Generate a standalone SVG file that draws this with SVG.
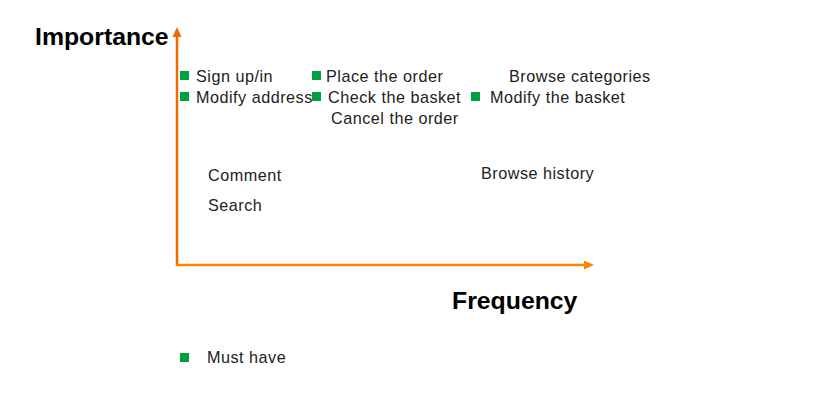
<svg xmlns="http://www.w3.org/2000/svg" width="836" height="409" viewBox="0 0 836 409">
<style>
.t{font-family:"Liberation Sans",Arial,sans-serif;font-size:16.2px;letter-spacing:0.5px;fill:#222}
.h{font-family:"Liberation Sans",Arial,sans-serif;font-size:24.8px;font-weight:bold;fill:#000}
.sq{fill:#00a040}
</style>
<rect width="836" height="409" fill="#fff"/>
<g id="connectors">
<line x1="177" y1="36" x2="177" y2="265.5" stroke="#f06a00" stroke-width="2.5"/>
<polygon points="177,27 172.5,37 181.5,37" fill="#f06a00"/>
<line x1="176" y1="265" x2="586" y2="265" stroke="#ff8400" stroke-width="2.5"/>
<polygon points="594,265 584,260.5 584,269.5" fill="#ff8400"/>
</g>
<g id="axis-labels">
<text class="h" x="35" y="45">Importance</text>
<text class="h" x="452" y="309">Frequency</text>
</g>
<g id="sign-up"><rect class="sq" x="180" y="71" width="9" height="9"/><text class="t" x="196" y="82">Sign up/in</text></g>
<g id="modify-address"><rect class="sq" x="180" y="92" width="9" height="9"/><text class="t" x="196" y="103">Modify address</text></g>
<g id="place-order"><rect class="sq" x="312" y="71" width="9" height="9"/><text class="t" x="326" y="82">Place the order</text></g>
<g id="check-basket"><rect class="sq" x="312" y="92" width="9" height="9"/><text class="t" x="328" y="103">Check the basket</text></g>
<g id="cancel-order"><text class="t" x="331" y="124">Cancel the order</text></g>
<g id="browse-categories"><text class="t" x="509" y="82">Browse categories</text></g>
<g id="modify-basket"><rect class="sq" x="471" y="92" width="9" height="9"/><text class="t" x="490" y="103">Modify the basket</text></g>
<g id="comment"><text class="t" x="208" y="181">Comment</text></g>
<g id="search"><text class="t" x="208" y="211">Search</text></g>
<g id="browse-history"><text class="t" x="481" y="179">Browse history</text></g>
<g id="legend"><rect class="sq" x="180" y="353" width="9" height="9"/><text class="t" x="207" y="363">Must have</text></g>
</svg>
